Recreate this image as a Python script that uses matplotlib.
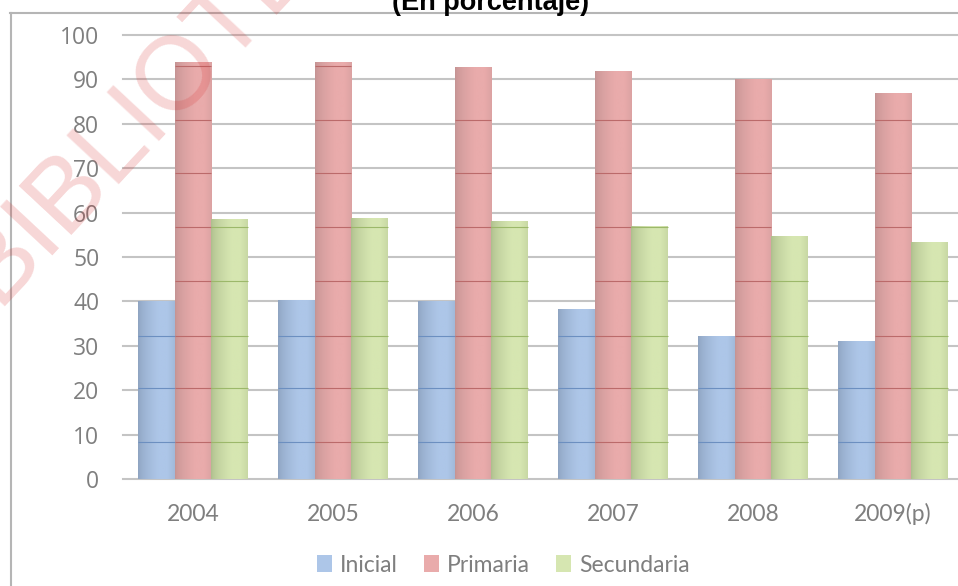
"""Tasa de cobertura por nivel educativo (En porcentaje)."""

import matplotlib

matplotlib.use("Agg")
import matplotlib.pyplot as plt
import numpy as np
from matplotlib.colors import to_rgb
from matplotlib.font_manager import FontProperties
from matplotlib.lines import Line2D
from matplotlib.patches import Patch
from matplotlib.textpath import TextPath

years = ["2004", "2005", "2006", "2007", "2008", "2009(p)"]
inicial = [40.0, 40.3, 40.0, 38.1, 32.2, 30.9]
primaria = [93.8, 93.7, 92.6, 91.8, 89.9, 86.9]
secundaria = [58.4, 58.7, 58.0, 56.9, 54.6, 53.3]
series_names = ["Inicial", "Primaria", "Secundaria"]

light_colors = ["#adc6e8", "#e9abab", "#d6e6b1"]
dark_colors = ["#8da2bf", "#c39393", "#adbd8c"]
rule_colors = ["#6c8fc0", "#bb6a6a", "#9cb86a"]
# faint horizontal rules printed inside the bars of the scanned chart
bar_rules = [8.4, 20.6, 32.3, 44.5, 56.8, 69.0, 80.9, 93.1]

W, H = 958, 586
fig = plt.figure(figsize=(W / 100, H / 100), dpi=100)
ax = fig.add_axes([123 / W, 107 / H, 840 / W, 444 / H])


def shaded_bar(ax, x, h, w, light, dark, rule):
    lo, hi = np.array(to_rgb(dark)), np.array(to_rgb(light))
    t = np.linspace(0, 1, 80)
    prof = np.clip(t / 0.55, 0, 1) ** 0.6
    prof = prof - 0.35 * np.clip((t - 0.8) / 0.2, 0, 1)
    rgb = lo + (hi - lo) * prof[:, None]
    ax.imshow(rgb[None, :, :], extent=(x - w / 2, x + w / 2, 0, h),
              aspect="auto", interpolation="bilinear", zorder=2)
    levels = [v for v in bar_rules if v < h]
    ax.hlines(levels, x - w / 2, x + w / 2, color=rule, lw=0.8, zorder=2.2)


width = 0.264
xs = np.arange(len(years))
for k, vals in enumerate([inicial, primaria, secundaria]):
    for i, v in enumerate(vals):
        shaded_bar(ax, xs[i] + (k - 1) * width, v, width,
                   light_colors[k], dark_colors[k], rule_colors[k])

ax.set_xlim(-0.5, len(years) - 0.5)
ax.set_ylim(0, 100)
ax.set_yticks(range(0, 101, 10))
ax.set_xticks(xs)
ax.set_xticklabels(years)
ax.tick_params(axis="y", length=0, pad=17, labelsize=16.5,
               labelcolor="#7f7f7f", labelfontfamily="Open Sans")
ax.tick_params(axis="x", length=0, pad=30, labelsize=16.5,
               labelcolor="#7f7f7f", labelfontfamily="Lato")
for lab in ax.get_xticklabels():
    lab.set_va("baseline")
ax.yaxis.grid(True, color="#c4c4c4", lw=1.5)
ax.set_axisbelow(True)
for gl in ax.get_ygridlines():
    gl.set_clip_on(False)
for s in ax.spines.values():
    s.set_visible(False)

handles = [Patch(facecolor=c, edgecolor="none") for c in light_colors]
fig.legend(handles, series_names, loc="center", bbox_to_anchor=(503 / W, 21 / H),
           ncol=3, frameon=False, handlelength=0.66, handleheight=0.7,
           handletextpad=0.35, columnspacing=1.13,
           prop={"family": "Lato", "size": 16.5}, labelcolor="#7f7f7f")

# outer frame of the pasted chart
fig.add_artist(Line2D([10 / W, 1], [1 - 13 / H, 1 - 13 / H], color="#b5b5b5", lw=1.5))
fig.add_artist(Line2D([11 / W, 11 / W], [0, 1 - 13 / H], color="#b5b5b5", lw=1.5))

fig.text(491 / W, 1 - 10 / H, "(En porcentaje)", ha="center", va="baseline",
         fontsize=19.5, fontweight="bold", family="Liberation Sans", color="black")

# library watermark, placed so that its "O" sits where it does in the scan
wm_text, wm_size, wm_angle = "BIBLIOTECA", 75, 47
wm_prop = FontProperties(family="Liberation Sans", size=wm_size)
o_ext = TextPath((0, 0), "O", prop=wm_prop).get_extents()
pre_ext = TextPath((0, 0), "BIBLIO", prop=wm_prop).get_extents()
px = 100 / 72
along = (pre_ext.x1 - o_ext.width / 2) * px
up = (o_ext.y0 + o_ext.y1) / 2 * px
a = np.radians(wm_angle)
d = np.array([np.cos(a), -np.sin(a)])
u = np.array([-np.sin(a), -np.cos(a)])
o_center = np.array([172.0, 66.0])
start = o_center - up * u - along * d
fig.text(start[0] / W, 1 - start[1] / H, wm_text, rotation=wm_angle,
         rotation_mode="anchor", ha="left", va="baseline", fontproperties=wm_prop,
         color=(0.85, 0.2, 0.2), alpha=0.2, zorder=10)

fig.savefig("out.png", dpi=100, facecolor="white")
